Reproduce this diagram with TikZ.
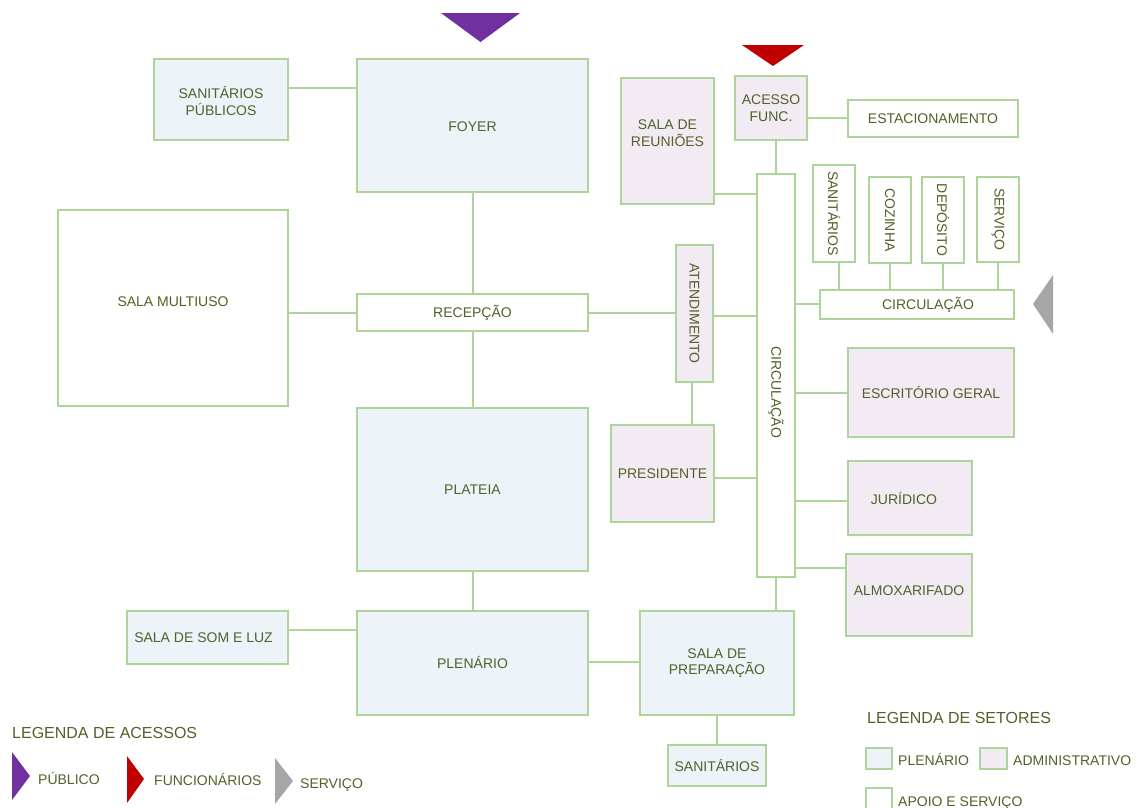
\documentclass[tikz,border=0pt]{standalone}
\usepackage{fontspec}
\setmainfont{Liberation Sans}
\definecolor{bord}{HTML}{ADD59A}
\definecolor{txt}{HTML}{4F6228}
\definecolor{plen}{HTML}{EEF2F9}
\definecolor{adm}{HTML}{F2EBF3}
\definecolor{pub}{HTML}{7030A0}
\definecolor{func}{HTML}{C00000}
\definecolor{serv}{HTML}{A6A6A6}
\newcommand{\shiftup}[2]{\raisebox{#1}[\height][\depth]{\begin{tabular}{@{}c@{}}#2\end{tabular}}}
\begin{document}
\begin{tikzpicture}[x=1pt,y=-1pt,
  room/.style={draw=bord, line width=2pt, fill=white, inner sep=0pt, outer sep=0pt,
    align=center, text=txt, font=\fontsize{14}{16.5}\selectfont},
  plenroom/.style={room, fill=plen},
  admroom/.style={room, fill=adm},
  link/.style={draw=bord, line width=2pt},
  lbl/.style={text=txt, font=\fontsize{14}{16.5}\selectfont, inner sep=0pt, anchor=base west},
  ttl/.style={text=txt, font=\fontsize{16}{18}\selectfont, inner sep=0pt, anchor=base west},
  swatch/.style={draw=bord, line width=2pt}]
\useasboundingbox (0,0) rectangle (1137,807);

% level coordinates
\coordinate (y88) at (0,88);
\coordinate (y118) at (0,118);
\coordinate (y194) at (0,194);
\coordinate (y304) at (0,304);
\coordinate (y313) at (0,313);
\coordinate (y316) at (0,316);
\coordinate (y393) at (0,393);
\coordinate (y478) at (0,478);
\coordinate (y501) at (0,501);
\coordinate (y568) at (0,568);
\coordinate (y630) at (0,630);
\coordinate (y662) at (0,662);
\coordinate (x692) at (692,0);
\coordinate (x839) at (839,0);

% rooms
\node[plenroom, minimum width=134, minimum height=81] (sp) at (221,99.5) {\shiftup{-4pt}{SANITÁRIOS\\PÚBLICOS}};
\node[plenroom, minimum width=231, minimum height=133] (foyer) at (472.5,125.5) {\shiftup{-3pt}{FOYER}};
\node[room, minimum width=230, minimum height=196] (multi) at (173,308) {\shiftup{5pt}{SALA MULTIUSO}};
\node[room, minimum width=231, minimum height=37] (recep) at (472.5,312.5) {RECEPÇÃO};
\node[plenroom, minimum width=231, minimum height=163] (plateia) at (472.5,489.5) {PLATEIA};
\node[plenroom, minimum width=161, minimum height=53] (somluz) at (207.5,637.5) {SALA DE SOM E LUZ\hspace*{8pt}};
\node[plenroom, minimum width=231, minimum height=104] (plenario) at (472.5,663) {\shiftup{-2pt}{PLENÁRIO}};
\node[plenroom, minimum width=154, minimum height=104] (prep) at (717,663) {SALA DE\\PREPARAÇÃO};
\node[plenroom, minimum width=98, minimum height=41] (sanb) at (717,765.5) {SANITÁRIOS};
\node[admroom, minimum width=103, minimum height=97] (pres) at (662.5,473.5) {PRESIDENTE};
\node[admroom, minimum width=37, minimum height=137] (atend) at (694.5,313.5) {\rotatebox{-90}{ATENDIMENTO}};
\node[admroom, minimum width=93, minimum height=126] (reun) at (667.5,141) {\shiftup{6pt}{SALA DE\\REUNIÕES}};
\node[admroom, minimum width=72, minimum height=64] (acesso) at (771,108) {ACESSO\\FUNC.};
\node[room, minimum width=170, minimum height=37] (estac) at (933,118.5) {ESTACIONAMENTO};
\node[room, minimum width=38, minimum height=403] (circV) at (776,375.5) {};
\node[text=txt, font=\fontsize{14}{16.5}\selectfont, inner sep=0pt] (circVlbl) at (776,392) {\rotatebox{-90}{CIRCULAÇÃO}};
\node[room, minimum width=42, minimum height=97] (sanv) at (834,213.5) {\rotatebox{-90}{SANITÁRIOS}};
\node[room, minimum width=42, minimum height=86] (coz) at (890,220) {\rotatebox{-90}{COZINHA}};
\node[room, minimum width=42, minimum height=86] (dep) at (943,220) {\rotatebox{-90}{DEPÓSITO}};
\node[room, minimum width=42, minimum height=85] (servb) at (998,219.5) {\rotatebox{-90}{SERVIÇO}};
\node[room, minimum width=194, minimum height=29] (circH) at (917,304.5) {\hspace*{22pt}CIRCULAÇÃO};
\node[admroom, minimum width=166, minimum height=89] (escr) at (931,392.5) {ESCRITÓRIO GERAL};
\node[admroom, minimum width=124, minimum height=74] (jur) at (910,498) {JURÍDICO\hspace*{12pt}};
\node[admroom, minimum width=126, minimum height=82] (almox) at (909,595) {\shiftup{3pt}{ALMOXARIFADO}};

% connectors
\draw[link] (sp.east |- y88) -- (foyer.west |- y88);
\draw[link] (foyer.south) -- (recep.north);
\draw[link] (multi.east |- y313) -- (recep.west |- y313);
\draw[link] (recep.south) -- (plateia.north);
\draw[link] (plateia.south) -- (plenario.north);
\draw[link] (somluz.east |- y630) -- (plenario.west |- y630);
\draw[link] (plenario.east |- y662) -- (prep.west |- y662);
\draw[link] (prep.south) -- (sanb.north);
\draw[link] (recep.east |- y313) -- (atend.west |- y313);
\draw[link] (atend.east |- y316) -- (circV.west |- y316);
\draw[link] (atend.south -| x692) -- (pres.north -| x692);
\draw[link] (pres.east |- y478) -- (circV.west |- y478);
\draw[link] (reun.east |- y194) -- (circV.west |- y194);
\draw[link] (acesso.south -| circV.north) -- (circV.north);
\draw[link] (acesso.east |- y118) -- (estac.west |- y118);
\draw[link] (circV.south) -- (circV.south |- prep.north);
\draw[link] (circV.east |- y304) -- (circH.west |- y304);
\draw[link] (circV.east |- y393) -- (escr.west |- y393);
\draw[link] (circV.east |- y501) -- (jur.west |- y501);
\draw[link] (circV.east |- y568) -- (almox.west |- y568);
\draw[link] (sanv.south -| x839) -- (circH.north -| x839);
\draw[link] (coz.south) -- (coz.south |- circH.north);
\draw[link] (dep.south) -- (dep.south |- circH.north);
\draw[link] (servb.south) -- (servb.south |- circH.north);

% access markers
\fill[pub] (441,13) -- (520,13) -- (480.5,42) -- cycle;
\fill[func] (742,45) -- (804,45) -- (773,66) -- cycle;
\fill[serv] (1033,304) -- (1053,275) -- (1053,334) -- cycle;

% legend of access
\node[ttl] (legac) at (12,738) {LEGENDA DE ACESSOS};
\fill[pub] (12,752) -- (30,776) -- (12,800) -- cycle;
\node[lbl] (lpub) at (38,784) {PÚBLICO};
\fill[func] (127,756) -- (144,779) -- (127,803) -- cycle;
\node[lbl] (lfunc) at (154,785) {FUNCIONÁRIOS};
\fill[serv] (275,758) -- (293,781) -- (275,804) -- cycle;
\node[lbl] (lserv) at (300,788) {SERVIÇO};

% legend of sectors
\node[ttl] (legset) at (867,723) {LEGENDA DE SETORES};
\draw[swatch, fill=plen] (866,748) rectangle (892,769);
\node[lbl] (lplen) at (898,765) {PLENÁRIO};
\draw[swatch, fill=adm] (980,748) rectangle (1007,769);
\node[lbl] (ladm) at (1013,765) {ADMINISTRATIVO};
\draw[swatch, fill=white] (866,788) rectangle (892,812);
\node[lbl] (lapo) at (898,806) {APOIO E SERVIÇO};
\end{tikzpicture}
\end{document}
